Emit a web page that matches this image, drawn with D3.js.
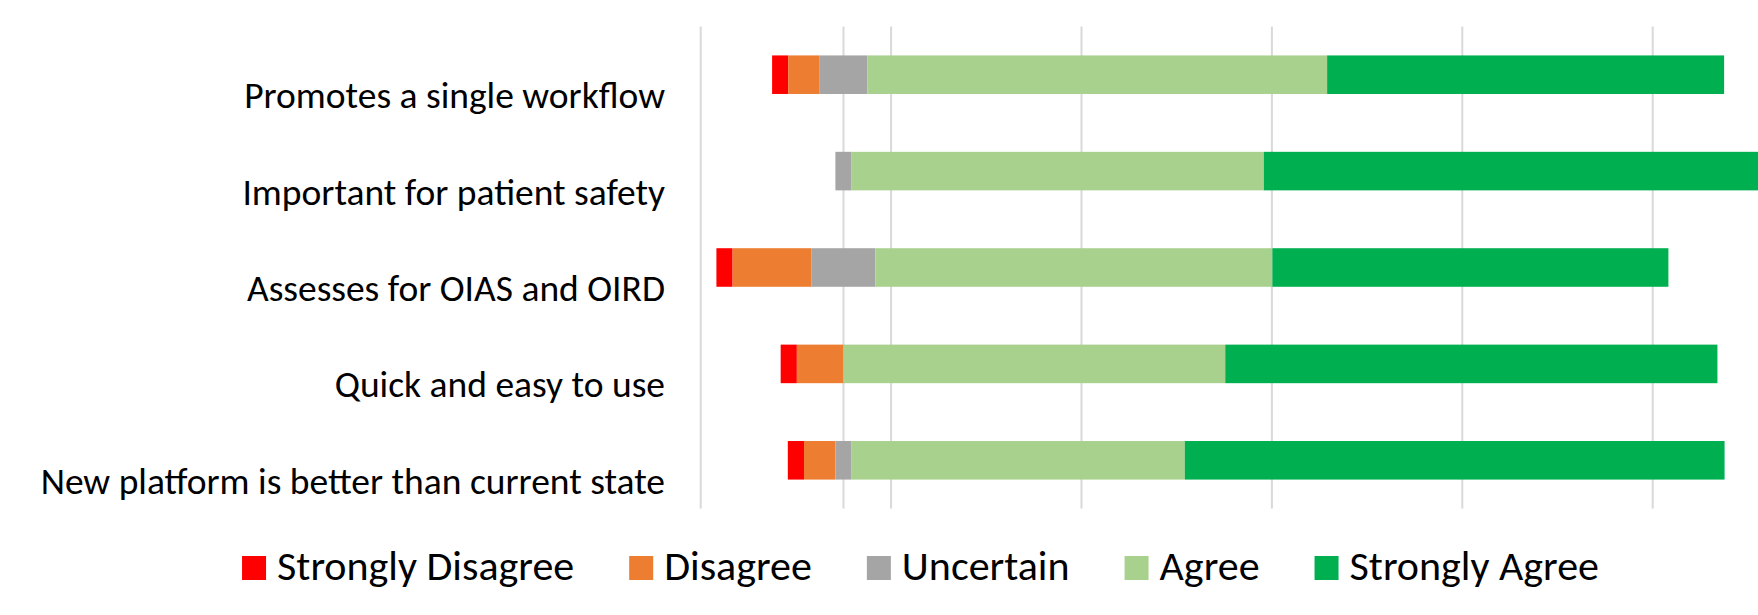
<!DOCTYPE html>
<html>
<head>
<meta charset="utf-8">
<script src="https://cdn.jsdelivr.net/npm/d3@7"></script>
<style>
  html, body { margin: 0; padding: 0; background: #fff; }
  svg { display: block; font-family: Carlito, Calibri, Lato, sans-serif; }
</style>
</head>
<body>
<svg id="chart" width="1758" height="615"></svg>
<script>
// survey questions, top to bottom
const categories = [
    'Promotes a single workflow',
    'Important for patient safety',
    'Assesses for OIAS and OIRD',
    'Quick and easy to use',
    'New platform is better than current state'
];

// percent of responses
const stronglyDisagree = [1.7, 0, 1.7, 1.7, 1.7];
const disagree = [3.3, 0, 8.3, 4.9, 3.3];
const uncertain = [5.0, 1.7, 6.7, 0, 1.7];
const agree = [48.3, 43.3, 41.7, 40.1, 35.0];
const stronglyAgree = [41.7, 55.0, 41.6, 51.7, 56.7];

const seriesNames = ['Strongly Disagree', 'Disagree', 'Uncertain', 'Agree', 'Strongly Agree'];
const seriesColors = ['#ff0000', '#ed7d31', '#a5a5a5', '#a9d18e', '#00b050'];
const gridTicks = [-15, 5, 25, 45, 65, 85];

const svg = d3.select('#chart');

const xScale = d3.scaleLinear().domain([-15, 105]).range([700.7, 1843.1]);
const yScale = d3.scaleBand()
    .domain(categories)
    .range([26.5, 508.5])
    .paddingInner(0.6)
    .paddingOuter(0.3);

// gridlines + zero line
const grid = svg.append('g');
grid.selectAll('line.grid')
    .data(gridTicks.concat([0]))
    .enter()
    .append('line')
    .attr('class', 'grid')
    .attr('x1', (d) => xScale(d))
    .attr('x2', (d) => xScale(d))
    .attr('y1', 26.5)
    .attr('y2', 508.5)
    .attr('style', 'stroke: #d9d9d9; stroke-width: 2px;');

// build segments: neutral centered on zero
const rows = categories.map((c, i) => {
    const vals = [stronglyDisagree[i], disagree[i], uncertain[i], agree[i], stronglyAgree[i]];
    let start = -(uncertain[i] / 2 + disagree[i] + stronglyDisagree[i]);
    return vals.map((v, k) => {
        const seg = { cat: c, k: k, x0: start, x1: start + v };
        start += v;
        return seg;
    });
});

svg.append('g')
    .selectAll('rect')
    .data(rows.flat().filter((d) => d.x1 > d.x0))
    .enter()
    .append('rect')
    .attr('x', (d) => xScale(d.x0))
    .attr('width', (d) => xScale(d.x1) - xScale(d.x0))
    .attr('y', (d) => yScale(d.cat))
    .attr('height', yScale.bandwidth())
    .attr('fill', (d) => seriesColors[d.k]);

// category labels (Excel puts them a bit below the bar centre)
svg.append('g')
    .selectAll('text')
    .data(categories)
    .enter()
    .append('text')
    .attr('x', 665)
    .attr('y', (d) => yScale(d) + yScale.bandwidth() / 2 + 33.5)
    .attr('text-anchor', 'end')
    .attr('font-size', 37.5)
    .attr('fill', '#000')
    .text((d) => d);

// legend
const legend = svg.append('g');
let lx = 0;
seriesNames.forEach((name, k) => {
    const item = legend.append('g').attr('transform', `translate(${lx},0)`);
    item.append('rect')
        .attr('x', 0)
        .attr('y', 556)
        .attr('width', 24)
        .attr('height', 24)
        .attr('fill', seriesColors[k]);
    const t = item.append('text')
        .attr('x', 35)
        .attr('y', 580)
        .attr('font-size', 42)
        .attr('fill', '#000')
        .text(name);
    lx += 35 + t.node().getComputedTextLength() + 55;
});
const legendWidth = lx - 55;
legend.attr('transform', `translate(${920.5 - legendWidth / 2},0)`);
</script>
</body>
</html>
